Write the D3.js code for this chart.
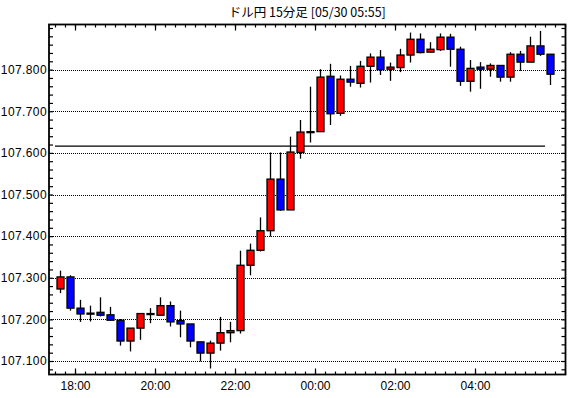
<!DOCTYPE html>
<html lang="ja">
<head>
<meta charset="UTF-8">
<title>ドル円 15分足</title>
<style>
    body{ margin:0; background:#fff; }
    #main{ width:570px; height:398px; }
    text{ fill:#000; }
</style>
</head>
<body>
<div id="main"></div>
<script src="https://d3js.org/d3.v7.min.js"></script>
<script>
    /*=========== data ===========*/
    const title = 'ドル円 15分足 [05/30 05:55]'

    // start time of each 15 min bar (05/29 17:30 - 05/30 05:45)
    const times = [
        '17:30','17:45','18:00','18:15','18:30','18:45','19:00','19:15','19:30','19:45',
        '20:00','20:15','20:30','20:45','21:00','21:15','21:30','21:45','22:00','22:15',
        '22:30','22:45','23:00','23:15','23:30','23:45','00:00','00:15','00:30','00:45',
        '01:00','01:15','01:30','01:45','02:00','02:15','02:30','02:45','03:00','03:15',
        '03:30','03:45','04:00','04:15','04:30','04:45','05:00','05:15','05:30','05:45'
    ]
    const open = [107.273,107.302,107.227,107.214,107.217,107.211,107.198,107.148,107.179,107.213,
        107.210,107.233,107.197,107.189,107.146,107.119,107.143,107.168,107.173,107.330,
        107.366,107.413,107.537,107.463,107.601,107.650,107.651,107.784,107.695,107.777,
        107.767,107.808,107.830,107.801,107.805,107.835,107.873,107.842,107.848,107.878,
        107.849,107.772,107.806,107.801,107.810,107.782,107.837,107.818,107.857,107.837]
    const high = [107.317,107.306,107.247,107.233,107.253,107.230,107.201,107.179,107.214,107.227,
        107.253,107.243,107.221,107.189,107.146,107.149,107.206,107.194,107.365,107.382,
        107.445,107.601,107.601,107.639,107.679,107.759,107.801,107.814,107.786,107.809,
        107.821,107.839,107.847,107.817,107.850,107.889,107.887,107.866,107.887,107.886,
        107.855,107.823,107.818,107.815,107.810,107.842,107.845,107.879,107.893,107.837]
    const low = [107.263,107.221,107.194,107.195,107.207,107.198,107.137,107.123,107.151,107.191,
        107.210,107.183,107.157,107.133,107.099,107.082,107.125,107.145,107.166,107.306,
        107.363,107.399,107.461,107.463,107.586,107.625,107.651,107.667,107.689,107.759,
        107.757,107.769,107.787,107.773,107.794,107.817,107.839,107.842,107.845,107.807,
        107.761,107.747,107.754,107.783,107.771,107.771,107.797,107.818,107.833,107.763]
    const close = [107.302,107.227,107.213,107.215,107.210,107.198,107.148,107.179,107.214,107.214,
        107.233,107.194,107.189,107.148,107.119,107.143,107.168,107.173,107.330,107.366,
        107.413,107.537,107.463,107.602,107.650,107.651,107.782,107.694,107.777,107.770,
        107.808,107.830,107.800,107.806,107.835,107.873,107.841,107.849,107.878,107.849,
        107.772,107.803,107.801,107.810,107.782,107.837,107.818,107.857,107.837,107.789]

    // y tick labels and the horizontal reference line
    const yTicks = [107.1,107.2,107.3,107.4,107.5,107.6,107.7,107.8]
    const level = 107.616
    const xLabelTimes = ['05/29 18:00','05/29 20:00','05/29 22:00','05/30 00:00','05/30 02:00','05/30 04:00']

    /*=========== container ===========*/
    const width = 570
    const height = 398
    const pLeft = 49, pRight = 565.5, pTop = 24.5, pBottom = 374.5

    const svg = d3.select('#main').append('svg')
        .attr('width', width)
        .attr('height', height)
        .attr('viewBox', `0 0 ${width} ${height}`)
        .style('font-family', '"Liberation Sans", Arial, sans-serif')

    /*=========== scales ===========*/
    const parse = d3.timeParse('%m/%d %H:%M')
    // bars before midnight are on 05/29, the rest on 05/30
    const barStart = times.map(t => parse((+t.slice(0, 2) >= 12 ? '05/29 ' : '05/30 ') + t))
    const candles = barStart.map((t, i) => ({
        t: t, o: open[i], h: high[i], l: low[i], c: close[i]
    }))

    const x = d3.scaleTime()
        .domain([d3.timeSecond.offset(parse('05/29 18:00'), -39 * 60), d3.timeSecond.offset(parse('05/30 06:00'), 945)])
        .range([pLeft, pRight])

    const y = d3.scaleLinear()
        .domain([107.0676, 107.9084])
        .range([pBottom, pTop])

    const mid = d => x(d3.timeSecond.offset(d.t, 450))

    /*=========== grid ===========*/
    svg.append('g')
        .selectAll('line')
        .data(yTicks)
        .join('line')
        .attr('x1', pLeft)
        .attr('x2', pRight)
        .attr('y1', d => Math.round(y(d)) + 0.5)
        .attr('y2', d => Math.round(y(d)) + 0.5)
        .attr('stroke', '#000')
        .attr('stroke-width', 1)
        .attr('stroke-dasharray', '1,1')

    /*=========== axes ===========*/
    const minorY = d3.range(107.08, 107.905, 0.02)
    const minorX = d3.timeMinute.every(15).range(x.domain()[0], x.domain()[1])
    const majorX = xLabelTimes.map(parse)

    // left labels
    svg.append('g')
        .attr('transform', `translate(${pLeft},0)`)
        .call(d3.axisLeft(y).tickValues(yTicks).tickSize(0).tickPadding(2).tickFormat(d3.format('.3f')))
        .call(g => g.select('.domain').remove())
        .style('font-size', '12px')
        .style('letter-spacing', '0.4px')

    // inner ticks on all four sides
    svg.append('g')
        .attr('transform', `translate(${pLeft},0)`)
        .call(d3.axisLeft(y).tickValues(minorY).tickSize(-4).tickFormat(''))
        .call(g => g.select('.domain').remove())
    svg.append('g')
        .attr('transform', `translate(${pRight},0)`)
        .call(d3.axisRight(y).tickValues(minorY).tickSize(-4).tickFormat(''))
        .call(g => g.select('.domain').remove())

    svg.append('g')
        .attr('transform', `translate(0,${pBottom})`)
        .call(d3.axisBottom(x).tickValues(minorX).tickSize(-3).tickFormat(''))
        .call(g => g.select('.domain').remove())
    svg.append('g')
        .attr('transform', `translate(0,${pBottom})`)
        .call(d3.axisBottom(x).tickValues(majorX).tickSizeInner(-6).tickSizeOuter(0).tickPadding(6).tickFormat(d3.timeFormat('%H:%M')))
        .call(g => g.select('.domain').remove())
        .call(g => g.selectAll('text').attr('y', 7))
        .style('font-size', '12px')
    svg.append('g')
        .attr('transform', `translate(0,${pTop})`)
        .call(d3.axisTop(x).tickValues(minorX).tickSize(-3).tickFormat(''))
        .call(g => g.select('.domain').remove())
    svg.append('g')
        .attr('transform', `translate(0,${pTop})`)
        .call(d3.axisTop(x).tickValues(majorX).tickSize(-6).tickFormat(''))
        .call(g => g.select('.domain').remove())

    svg.selectAll('.tick line').attr('stroke-width', 1.2)

    /*=========== reference line ===========*/
    svg.append('line')
        .attr('x1', x(barStart[0]))
        .attr('x2', x(barStart[barStart.length - 1]))
        .attr('y1', y(level))
        .attr('y2', y(level))
        .attr('stroke', '#000')
        .attr('stroke-width', 1.2)

    /*=========== candles ===========*/
    const bars = svg.append('g')
        .selectAll('g')
        .data(candles)
        .join('g')

    bars.append('line')
        .attr('x1', d => Math.round(mid(d)) + 0.5)
        .attr('x2', d => Math.round(mid(d)) + 0.5)
        .attr('y1', d => y(d.h))
        .attr('y2', d => y(d.l))
        .attr('stroke', '#000')
        .attr('stroke-width', 1.3)

    bars.append('rect')
        .attr('x', d => Math.round(mid(d)) - 3)
        .attr('width', 7)
        .attr('y', d => y(Math.max(d.o, d.c)))
        .attr('height', d => Math.max(1, Math.abs(y(d.o) - y(d.c))))
        .attr('fill', d => d.c >= d.o ? '#ff0000' : '#0000ff')
        .attr('stroke', '#000')
        .attr('stroke-width', 1.3)

    /*=========== frame & title ===========*/
    svg.append('rect')
        .attr('x', pLeft)
        .attr('y', pTop)
        .attr('width', pRight - pLeft)
        .attr('height', pBottom - pTop)
        .attr('fill', 'none')
        .attr('stroke', '#000')
        .attr('stroke-width', 1.8)

    svg.append('text')
        .attr('x', (pLeft + pRight) / 2)
        .attr('y', 17)
        .attr('text-anchor', 'middle')
        .style('font-family', '"Noto Sans CJK JP", sans-serif')
        .style('font-size', '12.5px')
        .text(title)
</script>
</body>
</html>
